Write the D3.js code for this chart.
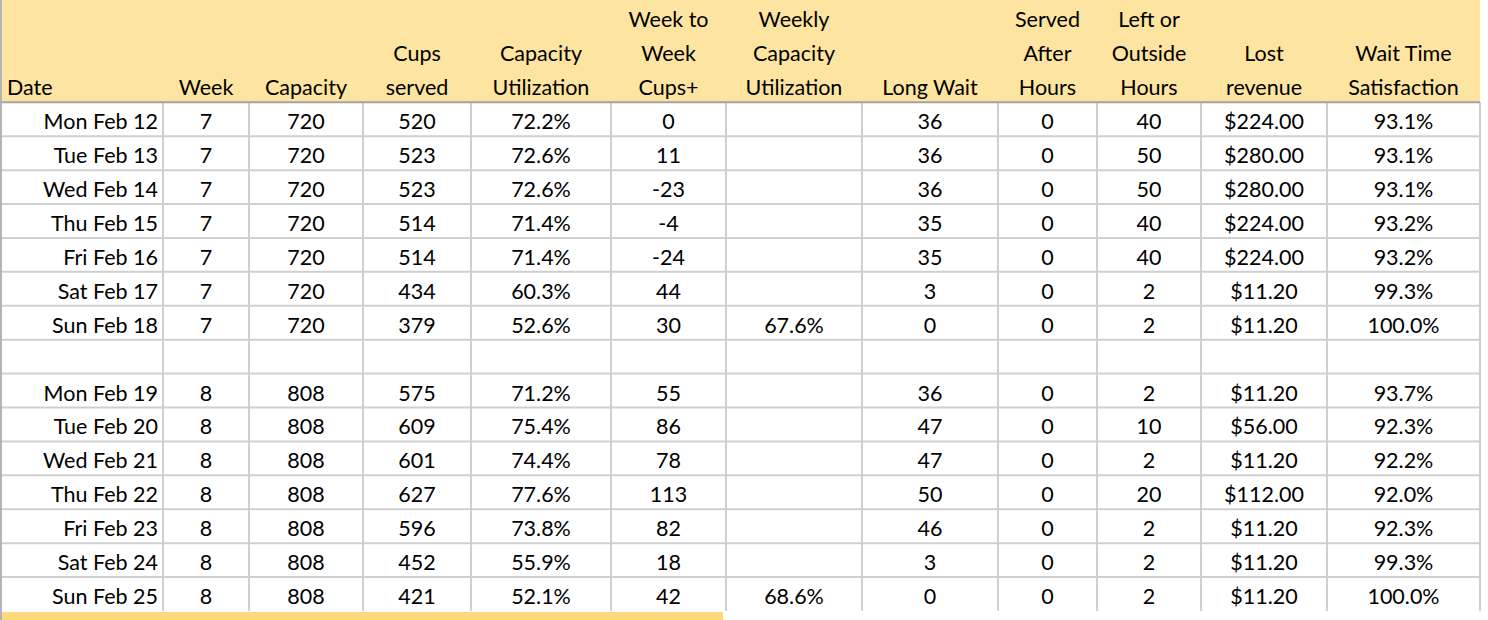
<!DOCTYPE html>
<html>
<head>
<meta charset="utf-8">
<script src="https://cdn.jsdelivr.net/npm/d3@7"></script>
<style>
  html, body { margin: 0; padding: 0; background: #fff; }
  svg { display: block; }
  text { font-family: Lato, "Open Sans", sans-serif; font-size: 21.5px; fill: #000; }
</style>
</head>
<body>
<svg id="sheet" width="1488" height="620"></svg>
<script>
// Week 7 / Week 8 daily stand report, blank row between weeks
const dates = ["Mon Feb 12", "Tue Feb 13", "Wed Feb 14", "Thu Feb 15", "Fri Feb 16", "Sat Feb 17", "Sun Feb 18", "",
  "Mon Feb 19", "Tue Feb 20", "Wed Feb 21", "Thu Feb 22", "Fri Feb 23", "Sat Feb 24", "Sun Feb 25"];
const weeks = [7, 7, 7, 7, 7, 7, 7, null, 8, 8, 8, 8, 8, 8, 8];
const capacity = [720, 720, 720, 720, 720, 720, 720, null, 808, 808, 808, 808, 808, 808, 808];
const cupsServed = [520, 523, 523, 514, 514, 434, 379, null, 575, 609, 601, 627, 596, 452, 421];
const capacityUtil = [72.2, 72.6, 72.6, 71.4, 71.4, 60.3, 52.6, null, 71.2, 75.4, 74.4, 77.6, 73.8, 55.9, 52.1];
const weekToWeek = [0, 11, -23, -4, -24, 44, 30, null, 55, 86, 78, 113, 82, 18, 42];
const weeklyUtil = [null, null, null, null, null, null, 67.6, null, null, null, null, null, null, null, 68.6];
const longWait = [36, 36, 36, 35, 35, 3, 0, null, 36, 47, 47, 50, 46, 3, 0];
const servedAfter = [0, 0, 0, 0, 0, 0, 0, null, 0, 0, 0, 0, 0, 0, 0];
const leftOutside = [40, 50, 50, 40, 40, 2, 2, null, 2, 10, 2, 20, 2, 2, 2];
const lostRevenue = [224, 280, 280, 224, 224, 11.2, 11.2, null, 11.2, 56, 11.2, 112, 11.2, 11.2, 11.2];
const waitSatisfaction = [93.1, 93.1, 93.1, 93.2, 93.2, 99.3, 100.0, null, 93.7, 92.3, 92.2, 92.0, 92.3, 99.3, 100.0];

const headers = [
  ["", "", "Date"], ["", "", "Week"], ["", "", "Capacity"], ["", "Cups", "served"],
  ["", "Capacity", "Utilization"], ["Week to", "Week", "Cups+"], ["Weekly", "Capacity", "Utilization"],
  ["", "", "Long Wait"], ["Served", "After", "Hours"], ["Left or", "Outside", "Hours"],
  ["", "Lost", "revenue"], ["", "Wait Time", "Satisfaction"]
];

const pct = (v) => d3.format(".1f")(v) + "%";
const usd = d3.format("$.2f");
const plain = (v) => String(v);

const columns = [
  { values: dates, fmt: plain, align: "end" },
  { values: weeks, fmt: plain },
  { values: capacity, fmt: plain },
  { values: cupsServed, fmt: plain },
  { values: capacityUtil, fmt: pct },
  { values: weekToWeek, fmt: plain },
  { values: weeklyUtil, fmt: pct },
  { values: longWait, fmt: plain },
  { values: servedAfter, fmt: plain },
  { values: leftOutside, fmt: plain },
  { values: lostRevenue, fmt: usd },
  { values: waitSatisfaction, fmt: pct }
];

const svg = d3.select("#sheet");
const edges = [1, 163, 249, 363, 471, 611, 726, 862, 998, 1097, 1201, 1327, 1480];
const headerH = 102.3;
const tableBottom = 611;

const x = d3.scaleOrdinal().domain(d3.range(columns.length)).range(edges.slice(0, -1));
const w = (i) => edges[i + 1] - edges[i];
const y = d3.scaleBand().domain(d3.range(dates.length)).range([headerH, tableBottom]);
const hy = d3.scaleBand().domain([0, 1, 2]).range([0, headerH]);

// header band
svg.append("rect").attr("x", 0).attr("y", 0).attr("width", 1480).attr("height", headerH)
  .attr("fill", "#fde4a1");

const gHead = svg.append("g");
headers.forEach((lines, ci) => {
  lines.forEach((t, li) => {
    if (!t) return;
    gHead.append("text")
      .attr("x", ci === 0 ? 7 : x(ci) + w(ci) / 2)
      .attr("y", hy(li) + hy.bandwidth() - 7)
      .attr("text-anchor", ci === 0 ? "start" : "middle")
      .text(t);
  });
});

// grid
const gGrid = svg.append("g").attr("stroke", "#cfcfcf").attr("stroke-width", 2);
gGrid.selectAll("line.h").data(d3.range(1, dates.length)).join("line")
  .attr("class", "h")
  .attr("x1", 0).attr("x2", 1480)
  .attr("y1", (d) => y(d)).attr("y2", (d) => y(d));
gGrid.selectAll("line.v").data(d3.range(1, columns.length + 1)).join("line")
  .attr("class", "v")
  .attr("x1", (d) => edges[d]).attr("x2", (d) => edges[d])
  .attr("y1", headerH).attr("y2", tableBottom);

svg.append("line").attr("x1", 0).attr("x2", 1480).attr("y1", headerH).attr("y2", headerH)
  .attr("stroke", "#a3a3a3").attr("stroke-width", 2);
svg.append("line").attr("x1", 1).attr("x2", 1).attr("y1", 0).attr("y2", 620)
  .attr("stroke", "#b4b4b4").attr("stroke-width", 2);

// bottom highlight strip
svg.append("rect").attr("x", 2).attr("y", tableBottom + 1).attr("width", 721).attr("height", 10)
  .attr("fill", "#fcd97b");

// cell values
const gCells = svg.append("g");
columns.forEach((col, ci) => {
  gCells.selectAll(null)
    .data(col.values.map((v, ri) => ({ v, ri })).filter((d) => d.v !== null && d.v !== ""))
    .join("text")
    .attr("x", col.align === "end" ? x(ci) + w(ci) - 5 : x(ci) + w(ci) / 2)
    .attr("y", (d) => y(d.ri) + y.bandwidth() - 7)
    .attr("text-anchor", col.align || "middle")
    .text((d) => col.fmt(d.v));
});
</script>
</body>
</html>
